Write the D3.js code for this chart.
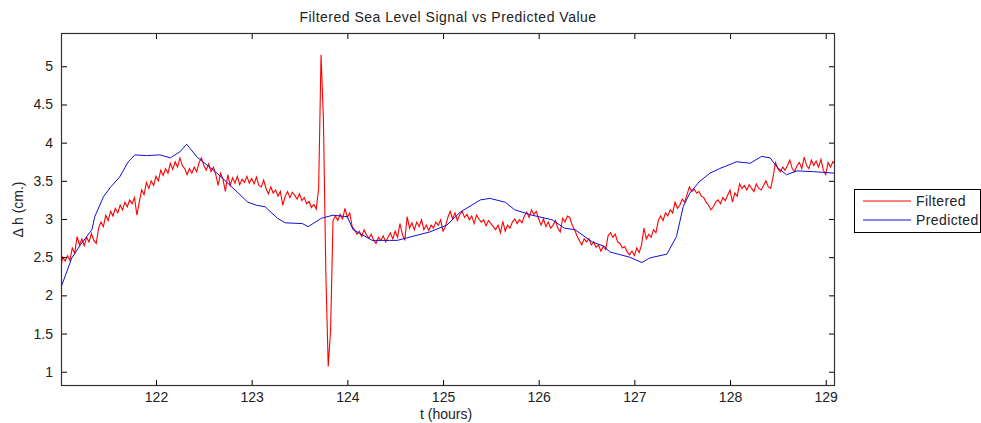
<!DOCTYPE html>
<html>
<head>
<meta charset="utf-8">
<script src="https://cdn.jsdelivr.net/npm/d3@7"></script>
<style>
  body { margin: 0; background: #fff; }
  svg { display: block; font-family: "Liberation Sans", Arial, sans-serif; }
  .tickText { font-size: 14px; fill: #222; }
</style>
</head>
<body>
<div id="chart"></div>
<script>
// filtered signal, sampled every 0.025 h from t = 121.0
var redStart = 121.0;
var redStep = 0.025;
var redValues = [
  2.33, 2.50, 2.45, 2.52, 2.46, 2.62, 2.55, 2.77, 2.66, 2.74,
  2.65, 2.76, 2.70, 2.81, 2.72, 2.68, 2.88, 2.96, 2.90, 3.05,
  2.98, 3.10, 3.04, 3.14, 3.08, 3.18, 3.12, 3.22, 3.16, 3.25,
  3.20, 3.28, 3.05, 3.22, 3.38, 3.32, 3.48, 3.40, 3.50, 3.44,
  3.56, 3.50, 3.64, 3.57, 3.66, 3.60, 3.73, 3.65, 3.75, 3.68,
  3.80, 3.70, 3.66, 3.58, 3.66, 3.60, 3.68, 3.62, 3.74, 3.80,
  3.70, 3.64, 3.72, 3.62, 3.68, 3.58, 3.44, 3.60, 3.52, 3.36,
  3.58, 3.44, 3.54, 3.47, 3.56, 3.45, 3.52, 3.48, 3.56, 3.47,
  3.53, 3.46, 3.55, 3.44, 3.42, 3.51, 3.40, 3.33, 3.42, 3.34,
  3.38, 3.30, 3.36, 3.18, 3.30, 3.36, 3.28, 3.35, 3.31, 3.26,
  3.33, 3.24, 3.28, 3.20, 3.23, 3.15, 3.19, 3.13, 3.40, 5.15,
  4.30, 2.30, 1.07, 1.55, 2.98, 3.04, 2.98, 3.06, 3.00, 3.14,
  3.02, 3.08, 2.90, 2.86, 2.80, 2.84, 2.77, 2.86, 2.79, 2.75,
  2.80, 2.72, 2.68, 2.76, 2.72, 2.78, 2.70, 2.76, 2.82, 2.74,
  2.84, 2.76, 2.94, 2.80, 2.72, 3.03, 2.88, 2.95, 2.86, 2.96,
  2.90, 2.99, 2.86, 2.92, 2.85, 2.92, 2.88, 2.96, 2.92, 2.99,
  2.84, 2.90, 3.02, 3.10, 3.00, 3.08, 2.98, 3.06, 3.10, 3.02,
  3.06, 2.99, 3.04, 2.94, 3.05, 3.00, 2.96, 2.99, 2.91, 2.98,
  2.94, 2.90, 2.86, 2.92, 2.82, 2.97, 2.84, 2.92, 2.88, 2.96,
  3.00, 2.94, 2.99, 2.95, 3.04, 3.09, 3.02, 3.12, 3.06, 3.10,
  3.00, 2.92, 3.00, 2.90, 2.96, 2.88, 2.92, 2.98, 2.88, 2.83,
  3.01, 2.96, 3.04, 3.02, 2.92, 2.86, 2.78, 2.72, 2.66, 2.74,
  2.70, 2.74, 2.66, 2.70, 2.63, 2.66, 2.58, 2.64, 2.60, 2.78,
  2.82, 2.76, 2.80, 2.70, 2.68, 2.62, 2.64, 2.57, 2.53, 2.58,
  2.52, 2.62, 2.56, 2.66, 2.88, 2.74, 2.80, 2.76, 2.86, 2.82,
  2.98, 3.04, 2.98, 3.08, 3.04, 3.12, 3.08, 3.22, 3.14, 3.18,
  3.26, 3.22, 3.32, 3.42, 3.36, 3.39, 3.34, 3.36, 3.30, 3.28,
  3.22, 3.18, 3.12, 3.16, 3.22, 3.25, 3.20, 3.28, 3.24, 3.31,
  3.38, 3.22, 3.34, 3.30, 3.46, 3.40, 3.44, 3.38, 3.45, 3.40,
  3.36, 3.46, 3.40, 3.38, 3.44, 3.50, 3.42, 3.40, 3.55, 3.74,
  3.66, 3.62, 3.68, 3.64, 3.70, 3.77, 3.66, 3.62, 3.70, 3.74,
  3.66, 3.81, 3.70, 3.66, 3.77, 3.70, 3.76, 3.68, 3.78, 3.64,
  3.58, 3.74, 3.68, 3.75, 3.72
];

// predicted value
var predTimes = [121.0, 121.12, 121.21, 121.33, 121.36, 121.45, 121.52, 121.62, 121.71, 121.78,
  121.9, 122.04, 122.15, 122.25, 122.32, 122.43, 122.62, 122.75, 122.96, 123.05,
  123.14, 123.27, 123.35, 123.53, 123.59, 123.73, 123.85, 124.0, 124.06, 124.26,
  124.52, 124.86, 125.04, 125.18, 125.39, 125.49, 125.65, 125.75, 125.93, 126.14,
  126.27, 126.38, 126.56, 126.69, 126.74, 126.95, 127.08, 127.16, 127.34, 127.44,
  127.51, 127.58, 127.68, 127.79, 127.89, 128.07, 128.21, 128.33, 128.42, 128.49,
  128.59, 128.70, 128.87, 129.1];
var predValues = [2.08, 2.49, 2.66, 2.86, 3.03, 3.29, 3.41, 3.55, 3.75, 3.84,
  3.83, 3.84, 3.80, 3.88, 3.98, 3.81, 3.62, 3.47, 3.22, 3.18,
  3.16, 3.01, 2.95, 2.94, 2.90, 3.01, 3.05, 3.03, 2.86, 2.72,
  2.72, 2.83, 2.92, 3.09, 3.25, 3.27, 3.22, 3.12, 3.05, 2.99,
  2.88, 2.86, 2.70, 2.64, 2.57, 2.50, 2.43, 2.49, 2.54, 2.77,
  3.16, 3.34, 3.49, 3.60, 3.66, 3.75, 3.73, 3.82, 3.80, 3.68,
  3.58, 3.63, 3.62, 3.60];

var xTicks = [122, 123, 124, 125, 126, 127, 128, 129];
var yTicks = [1, 1.5, 2, 2.5, 3, 3.5, 4, 4.5, 5];
var seriesNames = ["Filtered", "Predicted"];
var seriesColors = ["#ff0000", "#1010d8"];

var svgWidth = 981;
var svgHeight = 423;
var margin = { top: 33, right: 146, bottom: 37, left: 61 };
var chartWidth = svgWidth - margin.left - margin.right;
var chartHeight = svgHeight - margin.top - margin.bottom;

var svg = d3.select("#chart")
  .append("svg")
  .attr("width", svgWidth)
  .attr("height", svgHeight);

svg.append("rect")
  .attr("width", svgWidth)
  .attr("height", svgHeight)
  .attr("fill", "#fff");

var chartGroup = svg.append("g")
  .attr("transform", `translate(${margin.left}, ${margin.top})`);

var xScale = d3.scaleLinear()
  .domain([121.007, 129.097])
  .range([0, chartWidth]);

var yScale = d3.scaleLinear()
  .domain([0.813, 5.436])
  .range([chartHeight, 0]);

// build series
var redData = redValues.map((v, i) => ({ t: redStart + i * redStep, v: v }));
var predData = predTimes.map((t, i) => ({ t: t, v: predValues[i] }));

svg.append("defs").append("clipPath")
  .attr("id", "plotClip")
  .append("rect")
  .attr("width", chartWidth)
  .attr("height", chartHeight);

var line = d3.line()
  .x(d => xScale(d.t))
  .y(d => yScale(d.v));

var plotArea = chartGroup.append("g")
  .attr("clip-path", "url(#plotClip)");

plotArea.append("path")
  .datum(redData)
  .attr("fill", "none")
  .attr("stroke", seriesColors[0])
  .attr("stroke-width", 1.1)
  .attr("d", line);

plotArea.append("path")
  .datum(predData)
  .attr("fill", "none")
  .attr("stroke", seriesColors[1])
  .attr("stroke-width", 1)
  .attr("d", line);

// axes, matlab style: ticks inside on all four sides
var tickLen = 6;
var bottomAxis = d3.axisBottom(xScale).tickValues(xTicks).tickSizeInner(-tickLen).tickSizeOuter(0).tickPadding(6);
var topAxis = d3.axisTop(xScale).tickValues(xTicks).tickSizeInner(-tickLen).tickSizeOuter(0).tickFormat("");
var leftAxis = d3.axisLeft(yScale).tickValues(yTicks).tickSizeInner(-tickLen).tickSizeOuter(0).tickPadding(8)
  .tickFormat(d3.format("~g"));
var rightAxis = d3.axisRight(yScale).tickValues(yTicks).tickSizeInner(-tickLen).tickSizeOuter(0).tickFormat("");

function styleAxis(g) {
  g.select(".domain").remove();
  g.selectAll("line").attr("stroke", "#000").attr("stroke-width", 1);
  g.selectAll("text").attr("class", "tickText").attr("font-size", null).attr("font-family", null);
}

chartGroup.append("g")
  .attr("transform", `translate(0, ${chartHeight})`)
  .call(bottomAxis)
  .call(styleAxis);

chartGroup.append("g")
  .call(topAxis)
  .call(styleAxis);

chartGroup.append("g")
  .call(leftAxis)
  .call(styleAxis);

chartGroup.append("g")
  .attr("transform", `translate(${chartWidth}, 0)`)
  .call(rightAxis)
  .call(styleAxis);

// frame
chartGroup.append("rect")
  .attr("x", 0.5)
  .attr("y", 0.5)
  .attr("width", chartWidth - 1)
  .attr("height", chartHeight - 1)
  .attr("fill", "none")
  .attr("stroke", "#333")
  .attr("stroke-width", 1.2);

// title and labels
svg.append("text")
  .attr("x", margin.left + chartWidth / 2)
  .attr("y", 22)
  .attr("text-anchor", "middle")
  .attr("font-size", "14px")
  .attr("letter-spacing", "0.5px")
  .attr("fill", "#222")
  .text("Filtered Sea Level Signal vs Predicted Value");

svg.append("text")
  .attr("x", margin.left + chartWidth / 2 - 2)
  .attr("y", 419)
  .attr("text-anchor", "middle")
  .attr("font-size", "14px")
  .attr("fill", "#222")
  .text("t (hours)");

svg.append("text")
  .attr("transform", `translate(23, ${margin.top + chartHeight / 2}) rotate(-90)`)
  .attr("text-anchor", "middle")
  .attr("font-size", "14px")
  .attr("fill", "#222")
  .text("Δ h (cm.)");

// legend
var legend = svg.append("g")
  .attr("transform", "translate(854, 189)");

legend.append("rect")
  .attr("x", 0.5)
  .attr("y", 0.5)
  .attr("width", 126)
  .attr("height", 43)
  .attr("fill", "#fff")
  .attr("stroke", "#000");

seriesNames.forEach(function(name, i) {
  legend.append("line")
    .attr("x1", 9)
    .attr("x2", 57)
    .attr("y1", 12 + i * 19)
    .attr("y2", 12 + i * 19)
    .attr("stroke", seriesColors[i])
    .attr("stroke-width", 1);
  legend.append("text")
    .attr("x", 62)
    .attr("y", 12 + i * 19)
    .attr("dy", "0.35em")
    .attr("font-size", "14px")
    .attr("letter-spacing", "0.4px")
    .attr("fill", "#222")
    .text(name);
});
</script>
</body>
</html>
